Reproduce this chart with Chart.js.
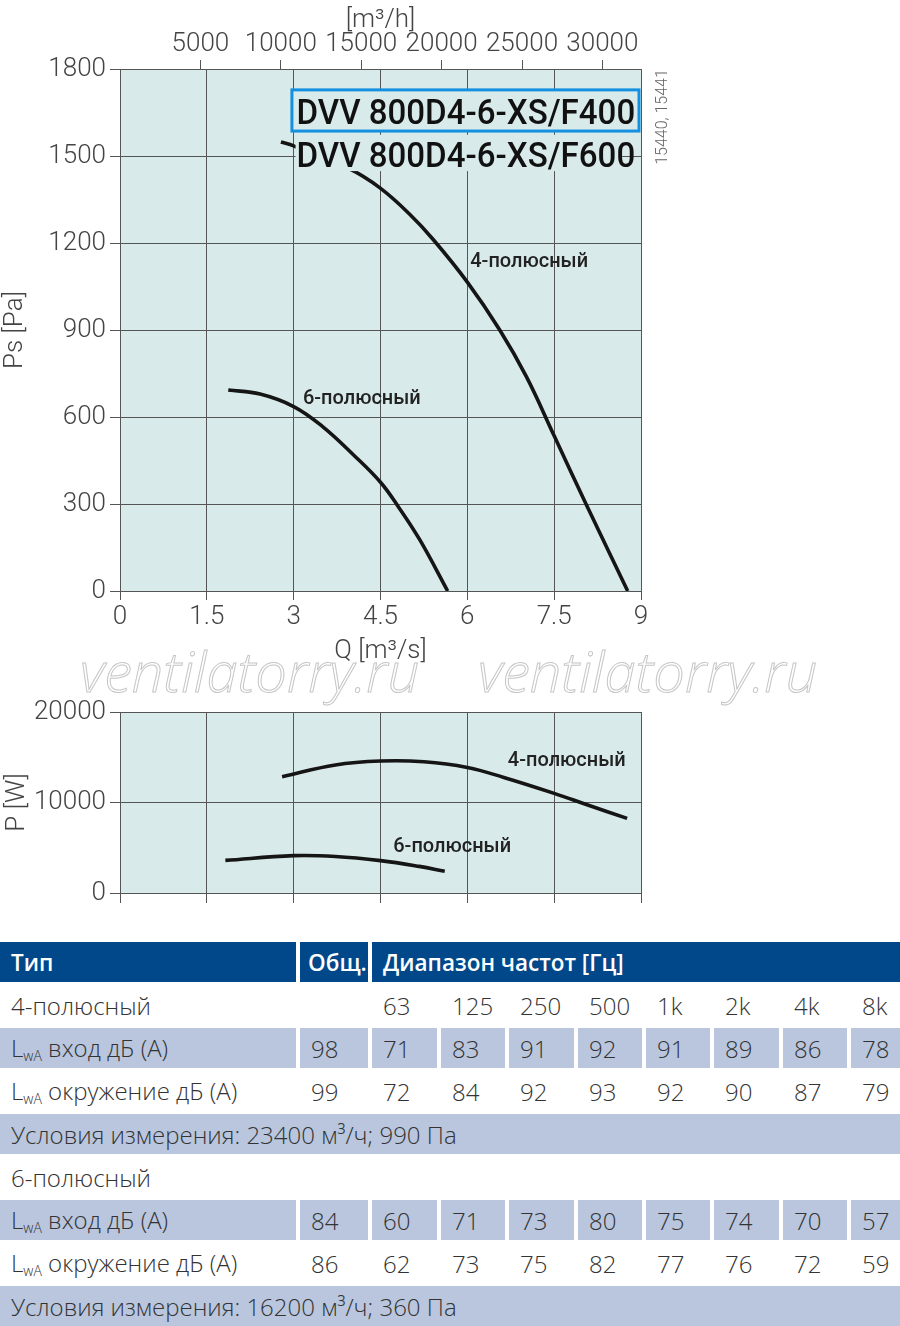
<!DOCTYPE html>
<html>
<head>
<meta charset="utf-8">
<title>DVV 800D4-6-XS/F400</title>
<script src="https://cdn.jsdelivr.net/npm/chart.js"></script>
<style>
  body { margin: 0; background: #fff; width: 900px; height: 1326px; position: relative; overflow: hidden; }
  #pressure { position: absolute; left: 0; top: 0; }
  #power { position: absolute; left: 0; top: 690px; }
  .wm { position: absolute; top: 632px; line-height: 56px; font: italic 300 56px 'Open Sans', sans-serif;
        color: transparent; -webkit-text-stroke: 1px #c6c6c6; white-space: nowrap; letter-spacing: 0; }
  table { position: absolute; left: -4px; top: 939px; width: 908px; table-layout: fixed;
          border-collapse: separate; border-spacing: 4px 3px; font: 300 24px 'Open Sans', sans-serif; color: #333; }
  td { height: 40px; padding: 0 0 0 11px; box-sizing: border-box; white-space: nowrap; overflow: hidden; vertical-align: middle; }
  td.hd { background: #00488a; color: #fff; font-weight: 600; font-size: 22.5px; }
  td.sh { background: #b9c6de; }
  .sub { font-size: 14px; vertical-align: -4px; }
</style>
</head>
<body>
<canvas id="pressure" width="900" height="670"></canvas>
<canvas id="power" width="900" height="225"></canvas>
<div class="wm" style="left:80px">ventilatorry.ru</div>
<div class="wm" style="left:478px">ventilatorry.ru</div>
<table id="noise"></table>

<script>
// axis ticks
const qTicks = [0, 1.5, 3, 4.5, 6, 7.5, 9];
const psTicks = [0, 300, 600, 900, 1200, 1500, 1800];
const flowTicks = [5000, 10000, 15000, 20000, 25000, 30000];
const powerTicks = [0, 10000, 20000];

// pressure curves, Q [m3/s] -> Ps [Pa]
const q4 = [2.78, 3.0, 3.95, 4.49, 5.0, 5.41, 6.0, 6.56, 7.02, 7.5, 8.05, 8.77];
const ps4 = [1548, 1535, 1457, 1390, 1300, 1212, 1065, 900, 739, 535, 300, 0];
const q6 = [1.87, 2.42, 3.0, 3.5, 4.03, 4.5, 4.81, 5.18, 5.66];
const ps6 = [693, 679, 636, 567, 470, 375, 290, 176, 0];

// power curves, Q [m3/s] -> P [W]
const pq4 = [2.8, 3.72, 4.5, 5.25, 6.0, 6.63, 7.5, 8.08, 8.76];
const pw4 = [12850, 14150, 14580, 14500, 13870, 12770, 11010, 9720, 8250];
const pq6 = [1.82, 3.0, 3.72, 4.5, 5.17, 5.61];
const pw6 = [3600, 4130, 4040, 3580, 2940, 2400];

// noise table
const bands = ['63', '125', '250', '500', '1k', '2k', '4k', '8k'];
const inlet4Total = 98, amb4Total = 99, inlet6Total = 84, amb6Total = 86;
const inlet4 = [71, 83, 91, 92, 91, 89, 86, 78];
const amb4 = [72, 84, 92, 93, 92, 90, 87, 79];
const inlet6 = [60, 71, 73, 80, 75, 74, 70, 57];
const amb6 = [62, 73, 75, 82, 77, 76, 72, 59];
const cond4 = 'Условия измерения: 23400 м³/ч; 990 Па';
const cond6 = 'Условия измерения: 16200 м³/ч; 360 Па';

const PLOT_BG = '#d8ebea';
const GRID = '#555';
const TICK_FONT = { family: 'Roboto, "Noto Sans", sans-serif', size: 26, weight: 300 };
const LABEL_FONT = '500 20px Roboto, "Noto Sans", sans-serif';

const pts = (xs, ys) => xs.map((x, i) => ({ x: x, y: ys[i] }));
const curve = (data) => ({
  data: data, borderColor: '#151515', borderWidth: 3.6, pointRadius: 0,
  tension: 0.4, fill: false
});

const plotBg = {
  id: 'plotBg',
  beforeDraw(chart) {
    const a = chart.chartArea, ctx = chart.ctx;
    ctx.save();
    ctx.fillStyle = PLOT_BG;
    ctx.fillRect(a.left, a.top, a.right - a.left, a.bottom - a.top);
    ctx.restore();
  }
};

function curveLabels(notes) {
  return {
    id: 'curveLabels',
    afterDatasetsDraw(chart) {
      const ctx = chart.ctx, sx = chart.scales.x, sy = chart.scales.y;
      ctx.save();
      ctx.font = LABEL_FONT;
      ctx.fillStyle = '#222';
      ctx.textBaseline = 'middle';
      notes.forEach(n => ctx.fillText(n.text, sx.getPixelForValue(n.q), sy.getPixelForValue(n.v)));
      ctx.restore();
    }
  };
}

const modelLabels = {
  id: 'modelLabels',
  afterDatasetsDraw(chart) {
    const ctx = chart.ctx, sx = chart.scales.x, sy = chart.scales.y;
    const x0 = sx.getPixelForValue(3.05);
    const targetW = sx.getPixelForValue(8.9) - x0;
    ctx.save();
    ctx.font = '500 35px Roboto, "Noto Sans", sans-serif';
    ctx.textBaseline = 'alphabetic';
    const draw = (text, base) => {
      const w = ctx.measureText(text).width;
      ctx.save();
      ctx.translate(x0, base);
      ctx.scale(targetW / w, 1);
      ctx.fillStyle = '#111';
      ctx.fillText(text, 0, 0);
      ctx.restore();
    };
    // F400, framed
    const bx = sx.getPixelForValue(2.97), by = sy.getPixelForValue(1728);
    const bw = chart.chartArea.right - 2 - bx, bh = sy.getPixelForValue(1586) - by;
    ctx.fillStyle = PLOT_BG;
    ctx.fillRect(bx, by, bw, bh);
    ctx.lineWidth = 3;
    ctx.strokeStyle = '#1490e0';
    ctx.strokeRect(bx, by, bw, bh);
    draw('DVV 800D4-6-XS/F400', sy.getPixelForValue(1610));
    // F600, on a plain patch
    ctx.fillStyle = PLOT_BG;
    const py = sy.getPixelForValue(1573);
    ctx.fillRect(x0 - 1, py, targetW - 12, sy.getPixelForValue(1448) - py);
    draw('DVV 800D4-6-XS/F600', sy.getPixelForValue(1461));
    // drawing numbers
    ctx.translate(663, 117);
    ctx.rotate(-Math.PI / 2);
    ctx.font = '300 16px Roboto, "Noto Sans", sans-serif';
    ctx.fillStyle = '#666';
    ctx.textAlign = 'center';
    ctx.textBaseline = 'middle';
    ctx.fillText('15440, 15441', 0, 0);
    ctx.restore();
  }
};

const setTicks = (vals) => (scale) => { scale.ticks = vals.map(v => ({ value: v })); };
const gridOpts = (len, onArea) => ({ color: GRID, lineWidth: 1, tickLength: len, drawOnChartArea: onArea, tickColor: GRID });
const titleOpts = (text, pad) => ({ display: true, text: text, color: '#444', font: TICK_FONT, padding: pad });

new Chart(document.getElementById('pressure'), {
  type: 'line',
  data: { datasets: [curve(pts(q4, ps4)), curve(pts(q6, ps6))] },
  options: {
    responsive: false, animation: false, devicePixelRatio: 1,
    layout: { padding: { left: 0, right: 259, top: 0, bottom: 0 } },
    plugins: { legend: { display: false }, tooltip: { enabled: false } },
    scales: {
      x: {
        type: 'linear', position: 'bottom', min: 0, max: 9,
        afterBuildTicks: setTicks(qTicks),
        afterFit: (s) => { s.height = 79; },
        grid: gridOpts(9, true), border: { color: GRID },
        ticks: { color: '#444', font: TICK_FONT, padding: 2, maxRotation: 0, callback: v => String(v) },
        title: titleOpts('Q [m³/s]', { top: 0, bottom: 3 })
      },
      x2: {
        type: 'linear', position: 'top', min: 0, max: 32400,
        afterBuildTicks: setTicks(flowTicks),
        afterFit: (s) => { s.height = 69; },
        grid: gridOpts(9, false), border: { color: GRID },
        ticks: { color: '#444', font: TICK_FONT, padding: 0, maxRotation: 0, callback: v => String(v) },
        title: titleOpts('[m³/h]', { top: 5, bottom: 0 })
      },
      y: {
        type: 'linear', min: 0, max: 1800,
        afterBuildTicks: setTicks(psTicks),
        afterFit: (s) => { s.width = 120; },
        grid: gridOpts(10, true), border: { color: GRID },
        ticks: { color: '#444', font: TICK_FONT, padding: 4, callback: v => String(v) },
        title: titleOpts('Ps [Pa]', { top: 0, bottom: 0 })
      }
    }
  },
  plugins: [plotBg, curveLabels([
    { text: '4-полюсный', q: 6.05, v: 1134 },
    { text: '6-полюсный', q: 3.16, v: 662 }
  ]), modelLabels]
});

new Chart(document.getElementById('power'), {
  type: 'line',
  data: { datasets: [curve(pts(pq4, pw4)), curve(pts(pq6, pw6))] },
  options: {
    responsive: false, animation: false, devicePixelRatio: 1,
    layout: { padding: { left: 0, right: 259, top: 22, bottom: 0 } },
    plugins: { legend: { display: false }, tooltip: { enabled: false } },
    scales: {
      x: {
        type: 'linear', position: 'bottom', min: 0, max: 9,
        afterBuildTicks: setTicks(qTicks),
        afterFit: (s) => { s.height = 22; },
        grid: gridOpts(10, true), border: { color: GRID },
        ticks: { display: false }
      },
      y: {
        type: 'linear', min: 0, max: 20000,
        afterBuildTicks: setTicks(powerTicks),
        afterFit: (s) => { s.width = 120; },
        grid: gridOpts(10, true), border: { color: GRID },
        ticks: { color: '#444', font: TICK_FONT, padding: 4, callback: v => String(v) },
        title: titleOpts('P [W]', { top: 2, bottom: 0 })
      }
    }
  },
  plugins: [plotBg, curveLabels([
    { text: '4-полюсный', q: 6.7, v: 14600 },
    { text: '6-полюсный', q: 4.72, v: 5100 }
  ])]
});

// table
const colWidths = [296, 68, 65, 64, 65, 64, 64, 65, 64, 49];
const lwa = (txt) => 'L<span class="sub">wA</span> ' + txt;
const cells = (vals, cls) => vals.map(v => `<td class="${cls}">${v}</td>`).join('');
const rows = [
  `<tr><td class="hd">Тип</td><td class="hd" style="padding-left:8px">Общ.</td><td class="hd" colspan="8">Диапазон частот [Гц]</td></tr>`,
  `<tr><td>4-полюсный</td><td></td>${cells(bands, '')}</tr>`,
  `<tr>${cells([lwa('вход дБ (A)'), inlet4Total].concat(inlet4), 'sh')}</tr>`,
  `<tr>${cells([lwa('окружение дБ (A)'), amb4Total].concat(amb4), '')}</tr>`,
  `<tr><td class="sh" colspan="10">${cond4}</td></tr>`,
  `<tr><td colspan="10">6-полюсный</td></tr>`,
  `<tr>${cells([lwa('вход дБ (A)'), inlet6Total].concat(inlet6), 'sh')}</tr>`,
  `<tr>${cells([lwa('окружение дБ (A)'), amb6Total].concat(amb6), '')}</tr>`,
  `<tr><td class="sh" colspan="10">${cond6}</td></tr>`
];
document.getElementById('noise').innerHTML =
  '<colgroup>' + colWidths.map(w => `<col style="width:${w}px">`).join('') + '</colgroup>' + rows.join('');
</script>
</body>
</html>
